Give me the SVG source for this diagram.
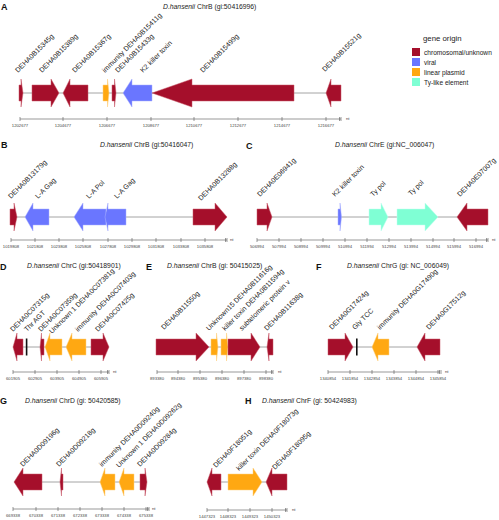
<svg xmlns="http://www.w3.org/2000/svg" width="499" height="520" viewBox="0 0 499 520">
<style>
text{font-family:"Liberation Sans",Arial,sans-serif;fill:#222}
.pl{font-size:9px;font-weight:bold;fill:#111}
.ti{font-size:6.8px}
.lb{font-size:7px}
.tk{font-size:4.2px;text-anchor:middle;fill:#444}
.nt{font-size:4.2px;fill:#444}
.lg{font-size:6.6px}
.bb{stroke:#9a9a9a;stroke-width:0.9;fill:none}
.ax{stroke:#555;stroke-width:0.6;fill:none}
.c{fill:#a50f2b;stroke:#c85a6a;stroke-width:0.5}
.v{fill:#6a76ff;stroke:#a8b0ff;stroke-width:0.5}
.p{fill:#ffa812;stroke:#ffd080;stroke-width:0.5}
.t{fill:#7fffd4;stroke:#c0fff0;stroke-width:0.5}
.r{fill:#111}
</style>
<rect width="499" height="520" fill="#fff"/>

<!-- titles -->
<g id="titles">
<text class="pl" x="1" y="10">A</text>
<text class="ti" x="163" y="9"><tspan font-style="italic">D.hansenii</tspan> ChrB (gi:50416996)</text>
<text class="pl" x="1" y="148">B</text>
<text class="ti" x="100" y="147"><tspan font-style="italic">D.hansenii</tspan> ChrB (gi:50416047)</text>
<text class="pl" x="246" y="149">C</text>
<text class="ti" x="335" y="147"><tspan font-style="italic">D.hansenii</tspan> ChrE (gi:NC_006047)</text>
<text class="pl" x="0" y="270">D</text>
<text class="ti" x="27" y="268"><tspan font-style="italic">D.hansenii</tspan> ChrC (gi:50418901)</text>
<text class="pl" x="146" y="270">E</text>
<text class="ti" x="167" y="268"><tspan font-style="italic">D.hansenii</tspan> ChrB (gi: 50415025)</text>
<text class="pl" x="316" y="270">F</text>
<text class="ti" x="347" y="268"><tspan font-style="italic">D.hansenii</tspan> ChrG (gi: NC_006049)</text>
<text class="pl" x="0" y="404">G</text>
<text class="ti" x="25" y="403"><tspan font-style="italic">D.hansenii</tspan> ChrD (gi: 50420585)</text>
<text class="pl" x="245" y="404">H</text>
<text class="ti" x="262" y="403"><tspan font-style="italic">D.hansenii</tspan> ChrF (gi: 50424983)</text>
</g>

<!-- legend -->
<g id="legend">
<text x="423" y="41" style="font-size:7.8px">gene origin</text>
<rect x="412" y="48" width="8" height="8" fill="#a50f2b"/>
<rect x="412" y="58" width="8" height="8" fill="#6a76ff"/>
<rect x="412" y="68" width="8" height="8" fill="#ffa812"/>
<rect x="412" y="78" width="8" height="8" fill="#7fffd4"/>
<text class="lg" x="424" y="54.5">chromosomal/unknown</text>
<text class="lg" x="424" y="64.5">viral</text>
<text class="lg" x="424" y="74.5">linear plasmid</text>
<text class="lg" x="424" y="84.5">Ty-like element</text>
</g>

<!-- connectors: backbones -->
<g id="connectors">
<line class="bb" x1="19" y1="93" x2="341" y2="93"/>
<line class="bb" x1="10" y1="217" x2="227" y2="217"/>
<line class="bb" x1="257" y1="217" x2="488" y2="217"/>
<line class="bb" x1="13" y1="347" x2="109" y2="347"/>
<line class="bb" x1="156" y1="347" x2="273" y2="347"/>
<line class="bb" x1="328" y1="347" x2="440" y2="347"/>
<line class="bb" x1="14" y1="482" x2="147" y2="482"/>
<line class="bb" x1="207" y1="482" x2="287" y2="482"/>
</g>

<!-- Panel A genes -->
<g id="A-DEHA0B15345g"><path class="c" d="M19 85H21V79L23 93L21 107V101H19Z"/><text class="lb" transform="translate(18,73) rotate(-45)">DEHA0B15345g</text></g>
<g id="A-DEHA0B15389g"><path class="c" d="M32 85H51V79L59 93L51 107V101H32Z"/><text class="lb" transform="translate(42,73) rotate(-45)">DEHA0B15389g</text></g>
<g id="A-DEHA0B15367g"><path class="c" d="M88 85H70V79L63 93L70 107V101H88Z"/><text class="lb" transform="translate(75,73) rotate(-45)">DEHA0B15367g</text></g>
<g id="A-DEHA0B15411g"><path class="p" d="M103 85H107.5V79L109 93L107.5 107V101H103Z"/><text class="lb" transform="translate(105,73) rotate(-45)">immunity DEHA0B15411g</text></g>
<g id="A-DEHA0B15433g"><path class="c" d="M112 85H114.5V79L116 93L114.5 107V101H112Z"/><text class="lb" transform="translate(118,73) rotate(-45)">DEHA0B15433g</text></g>
<g id="A-K2"><path class="v" d="M152 85H132V79L123 93L132 107V101H152Z"/><text class="lb" transform="translate(143,73) rotate(-45)">K2 killer toxin</text></g>
<g id="A-DEHA0B15499g"><path class="c" d="M294 85H192V79L152 93L192 107V101H294Z"/><text class="lb" transform="translate(203,73) rotate(-45)">DEHA0B15499g</text></g>
<g id="A-DEHA0B15521g"><path class="c" d="M341 85H331V79L326 93L331 107V101H341Z"/><text class="lb" transform="translate(325,72) rotate(-45)">DEHA0B15521g</text></g>

<!-- Panel B genes -->
<g id="B-DEHA0B13179g"><path class="c" d="M10 209H14V203L17 217L14 231V225H10Z"/><text class="lb" transform="translate(11,199) rotate(-45)">DEHA0B13179g</text></g>
<g id="B-LAGag1"><path class="v" d="M49 209H33V203L25 217L33 231V225H49Z"/><text class="lb" transform="translate(38,199) rotate(-45)">L-A Gag</text></g>
<g id="B-LAPol"><path class="v" d="M106 209H83V203L74 217L83 231V225H106Z"/><text class="lb" transform="translate(89,199) rotate(-45)">L-A Pol</text></g>
<g id="B-LAGag2"><path class="v" d="M126 209H108V203L105 217L108 231V225H126Z"/><text class="lb" transform="translate(117,199) rotate(-45)">L-A Gag</text></g>
<g id="B-DEHA0B13288g"><path class="c" d="M193 209H215V203L227 217L215 231V225H193Z"/><text class="lb" transform="translate(201,201) rotate(-45)">DEHA0B13288g</text></g>

<!-- Panel C genes -->
<g id="C-DEHA0E06941g"><path class="c" d="M257 209H267V203L272 217L267 231V225H257Z"/><text class="lb" transform="translate(260,197) rotate(-45)">DEHA0E06941g</text></g>
<g id="C-K2"><path class="v" d="M338 209H340V203L341.5 217L340 231V225H338Z"/><text class="lb" transform="translate(335,197) rotate(-45)">K2 killer toxin</text></g>
<g id="C-Typol1"><path class="t" d="M369 209H381V203L388 217L381 231V225H369Z"/><text class="lb" transform="translate(373,197) rotate(-45)">Ty pol</text></g>
<g id="C-Typol2"><path class="t" d="M397 209H425V203L438 217L425 231V225H397Z"/><text class="lb" transform="translate(411,196) rotate(-45)">Ty pol</text></g>
<g id="C-DEHA0E07007g"><path class="c" d="M488 209H467V203L457 217L467 231V225H488Z"/><text class="lb" transform="translate(460,197) rotate(-45)">DEHA0E07007g</text></g>

<!-- Panel D genes -->
<g id="D-DEHA0C07315g"><path class="c" d="M23 339H17V333L13 347L17 361V355H23Z"/><text class="lb" transform="translate(13,332) rotate(-45)">DEHA0C07315g</text></g>
<g id="D-ThrAGT"><rect class="r" x="25.8" y="338.5" width="1.6" height="17"/><text class="lb" transform="translate(27,332) rotate(-45)">Thr AGT</text></g>
<g id="D-DEHA0C07359g"><path class="c" d="M44 339H41.5V333L40 347L41.5 361V355H44Z"/><text class="lb" transform="translate(41,332) rotate(-45)">DEHA0C07359g</text></g>
<g id="D-DEHA0C07381g"><path class="p" d="M62 339H50V333L45 347L50 361V355H62Z"/><text class="lb" transform="translate(52,334) rotate(-45)">Unknown 1 DEHA0C07381g</text></g>
<g id="D-DEHA0C07403g"><path class="p" d="M86 339H72V333L66 347L72 361V355H86Z"/><text class="lb" transform="translate(78,332) rotate(-45)">immunity DEHA0C07403g</text></g>
<g id="D-DEHA0C07425g"><path class="c" d="M91 339H103V333L109 347L103 361V355H91Z"/><text class="lb" transform="translate(98,332) rotate(-45)">DEHA0C07425g</text></g>

<!-- Panel E genes -->
<g id="E-DEHA0B11550g"><path class="c" d="M156 339H196V333L209 347L196 361V355H156Z"/><text class="lb" transform="translate(164,330) rotate(-45)">DEHA0B11550g</text></g>
<g id="E-DEHA0B11616g"><path class="p" d="M211 339H216.5V333L218 347L216.5 361V355H211Z"/><text class="lb" transform="translate(209,331) rotate(-45)">Unknown15 DEHA0B11616g</text></g>
<g id="E-DEHA0B11594g"><path class="p" d="M221 339H226.5V333L228 347L226.5 361V355H221Z"/><text class="lb" transform="translate(225,331) rotate(-45)">killer toxin DEHA0B11594g</text></g>
<g id="E-subtel"><path class="c" d="M228 339H251V333L260 347L251 361V355H228Z"/><text class="lb" transform="translate(242,331) rotate(-45)">subtelomeric protein v</text></g>
<g id="E-DEHA0B11638g"><path class="c" d="M273 339H269V333L267 347L269 361V355H273Z"/><text class="lb" transform="translate(267,331) rotate(-45)">DEHA0B11638g</text></g>

<!-- Panel F genes -->
<g id="F-DEHA0G17424g"><path class="c" d="M328 339H345V333L353 347L345 361V355H328Z"/><text class="lb" transform="translate(332,330) rotate(-45)">DEHA0G17424g</text></g>
<g id="F-GlyTCC"><rect class="r" x="356" y="338.5" width="1.6" height="17"/><text class="lb" transform="translate(355,330) rotate(-45)">Gly TCC</text></g>
<g id="F-DEHA0G17490g"><path class="p" d="M389 339H378V333L372 347L378 361V355H389Z"/><text class="lb" transform="translate(380,330) rotate(-45)">immunity DEHA0G17490g</text></g>
<g id="F-DEHA0G17512g"><path class="c" d="M440 339H425V333L417 347L425 361V355H440Z"/><text class="lb" transform="translate(429,330) rotate(-45)">DEHA0G17512g</text></g>

<!-- Panel G genes -->
<g id="G-DEHA0D09196g"><path class="c" d="M42 474H23V468L14 482L23 496V490H42Z"/><text class="lb" transform="translate(23,467) rotate(-45)">DEHA0D09196g</text></g>
<g id="G-DEHA0D09218g"><path class="c" d="M63 474H61.5V468L60 482L61.5 496V490H63Z"/><text class="lb" transform="translate(59,467) rotate(-45)">DEHA0D09218g</text></g>
<g id="G-DEHA0D09240g"><path class="p" d="M115 474H105V468L100 482L105 496V490H115Z"/><text class="lb" transform="translate(102,467) rotate(-45)">immunity DEHA0D09240g</text></g>
<g id="G-DEHA0D09262g"><path class="p" d="M134 474H124V468L119 482L124 496V490H134Z"/><text class="lb" transform="translate(119,468) rotate(-45)">Unknown 1 DEHA0D09262g</text></g>
<g id="G-DEHA0D09284g"><path class="c" d="M140 474H145V468L147 482L145 496V490H140Z"/><text class="lb" transform="translate(140,467) rotate(-45)">DEHA0D09284g</text></g>

<!-- Panel H genes -->
<g id="H-DEHA0F18051g"><path class="c" d="M221 474H212V468L207 482L212 496V490H221Z"/><text class="lb" transform="translate(216,468) rotate(-45)">DEHA0F18051g</text></g>
<g id="H-DEHA0F18073g"><path class="p" d="M228 474H253V468L262 482L253 496V490H228Z"/><text class="lb" transform="translate(239,471) rotate(-45)">killer toxin DEHA0F18073g</text></g>
<g id="H-DEHA0F18095g"><path class="c" d="M287 474H272V468L266 482L272 496V490H287Z"/><text class="lb" transform="translate(275,470) rotate(-45)">DEHA0F18095g</text></g>

<!-- axes -->
<g id="axis-A">
<path class="ax" d="M20 119H341M20 117V121M63 117V121M107 117V121M151 117V121M194 117V121M238 117V121M282 117V121M326 117V121M339.5 117V121M341 117V121"/>
<text class="tk" x="20" y="127">1202677</text><text class="tk" x="63" y="127">1204677</text><text class="tk" x="107" y="127">1206677</text><text class="tk" x="151" y="127">1208677</text><text class="tk" x="194" y="127">1210677</text><text class="tk" x="238" y="127">1212677</text><text class="tk" x="282" y="127">1214677</text><text class="tk" x="326" y="127">1216677</text>
<text class="nt" x="346" y="120">nt</text>
</g>
<g id="axis-B">
<path class="ax" d="M11 240H227M11 238V242M35 238V242M59 238V242M83 238V242M108 238V242M132 238V242M156 238V242M181 238V242M205 238V242M225.5 238V242M227 238V242"/>
<text class="tk" x="11" y="248">1019808</text><text class="tk" x="35" y="248">1021808</text><text class="tk" x="59" y="248">1023808</text><text class="tk" x="83" y="248">1025808</text><text class="tk" x="108" y="248">1027808</text><text class="tk" x="132" y="248">1029808</text><text class="tk" x="156" y="248">1031808</text><text class="tk" x="181" y="248">1033808</text><text class="tk" x="205" y="248">1035808</text>
<text class="nt" x="230" y="241">nt</text>
</g>
<g id="axis-C">
<path class="ax" d="M257 240H488M257 238V242M279 238V242M301 238V242M323 238V242M345 238V242M367 238V242M389 238V242M411 238V242M433 238V242M454 238V242M476 238V242M486.5 238V242M488 238V242"/>
<text class="tk" x="257" y="248">506994</text><text class="tk" x="279" y="248">507994</text><text class="tk" x="301" y="248">508994</text><text class="tk" x="323" y="248">509994</text><text class="tk" x="345" y="248">510994</text><text class="tk" x="367" y="248">511994</text><text class="tk" x="389" y="248">512994</text><text class="tk" x="411" y="248">513994</text><text class="tk" x="433" y="248">514994</text><text class="tk" x="454" y="248">515994</text><text class="tk" x="476" y="248">516994</text>
<text class="nt" x="492" y="241">nt</text>
</g>
<g id="axis-D">
<path class="ax" d="M13 372H109M13 370V374M35 370V374M57 370V374M79 370V374M101 370V374M107.5 370V374M109 370V374"/>
<text class="tk" x="13" y="380">601905</text><text class="tk" x="35" y="380">602905</text><text class="tk" x="57" y="380">603905</text><text class="tk" x="79" y="380">604905</text><text class="tk" x="101" y="380">605905</text>
<text class="nt" x="113" y="373">nt</text>
</g>
<g id="axis-E">
<path class="ax" d="M157 372H273M157 370V374M178 370V374M200 370V374M222 370V374M244 370V374M266 370V374M271.5 370V374M273 370V374"/>
<text class="tk" x="157" y="380">893380</text><text class="tk" x="178" y="380">894380</text><text class="tk" x="200" y="380">895380</text><text class="tk" x="222" y="380">896380</text><text class="tk" x="244" y="380">897380</text><text class="tk" x="266" y="380">898380</text>
<text class="nt" x="278" y="373">nt</text>
</g>
<g id="axis-F">
<path class="ax" d="M328 372H440M328 370V374M350 370V374M372 370V374M394 370V374M416 370V374M438 370V374M439.5 370V374M441 370V374"/>
<text class="tk" x="328" y="380">1340854</text><text class="tk" x="350" y="380">1341854</text><text class="tk" x="372" y="380">1342854</text><text class="tk" x="394" y="380">1343854</text><text class="tk" x="416" y="380">1344854</text><text class="tk" x="438" y="380">1345854</text>
<text class="nt" x="445" y="373">nt</text>
</g>
<g id="axis-G">
<path class="ax" d="M13 509H149M13 507V511M36 507V511M58 507V511M80 507V511M102 507V511M124 507V511M146 507V511M147.5 507V511M149 507V511"/>
<text class="tk" x="13" y="517">669338</text><text class="tk" x="36" y="517">670338</text><text class="tk" x="58" y="517">671338</text><text class="tk" x="80" y="517">672338</text><text class="tk" x="102" y="517">673338</text><text class="tk" x="124" y="517">674338</text><text class="tk" x="146" y="517">675338</text>
<text class="nt" x="152" y="510">nt</text>
</g>
<g id="axis-H">
<path class="ax" d="M207 510H287M207 508V512M228 508V512M250 508V512M272 508V512M285.5 508V512M287 508V512"/>
<text class="tk" x="207" y="518">1447323</text><text class="tk" x="228" y="518">1448323</text><text class="tk" x="250" y="518">1449323</text><text class="tk" x="272" y="518">1450323</text>
<text class="nt" x="292" y="511">nt</text>
</g>
</svg>
